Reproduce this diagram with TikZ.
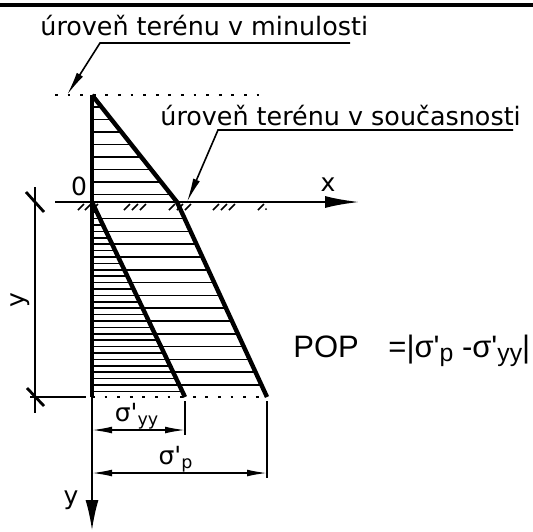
\documentclass[tikz,border=0pt]{standalone}
\usepackage{fontspec}
\setmainfont{DejaVu Sans}
\newfontfamily\eqfont{Liberation Sans}
\usepackage{tikz}
\usetikzlibrary{arrows.meta}
\newcommand\sq{\textquotesingle}
\newcommand\lowsub[1]{\raisebox{-0.15em}{\scalebox{0.8}{#1}}}

\begin{document}
\begin{tikzpicture}[
  x=0.5pt, y=-0.5pt,
  heavy/.style={line width=2.2pt},
  groundline/.style={line width=1.4pt},
  fine/.style={line width=0.75pt},
  hatch/.style={line width=0.85pt},
  dotline/.style={line width=1pt, dash pattern=on 1.4pt off 4.9pt},
  leader/.style={line width=0.8pt, -{Latex[length=12pt,width=3.6pt]}},
  dimline/.style={line width=0.75pt, {Latex[length=10pt,width=3.4pt]}-{Latex[length=10pt,width=3.4pt]}},
  lbl/.style={font=\fontsize{12.7}{15}\selectfont, inner sep=0pt},
  axlbl/.style={font=\fontsize{12.5}{15}\selectfont, inner sep=0pt},
  dimlbl/.style={font=\fontsize{12.5}{14}\selectfont, inner sep=0pt},
  eqlbl/.style={font=\eqfont\fontsize{15.5}{18}\selectfont, inner sep=0pt}
]
  \useasboundingbox (0,0) rectangle (533,531);
  \draw[heavy] (0,5) -- (533,5);

  \coordinate (apex) at (92,95);
  \coordinate (O) at (92,202);
  \coordinate (kink) at (177,202);
  \coordinate (outerend) at (267,397);
  \coordinate (innerend) at (185,397);
  \coordinate (axend) at (92,397);
  \coordinate (ytip) at (92,530);
  \coordinate (xstart) at (55,202);
  \coordinate (xtip) at (360,202);

  % hatching
  \begin{scope}
    \clip (apex) -- (kink) -- (outerend) -- (axend) -- cycle;
    \foreach \k in {0,...,7} \draw[hatch] (90,107+12.5*\k) -- (280,107+12.5*\k);
    \foreach \k in {0,...,13} \draw[hatch] (90,385-12.8*\k) -- (280,385-12.8*\k);
  \end{scope}
  \begin{scope}
    \clip (O) -- (innerend) -- (axend) -- cycle;
    \foreach \k in {0,...,14} \draw[hatch] (90,391.4-12.8*\k) -- (200,391.4-12.8*\k);
  \end{scope}

  % stress lines and axes
  \draw[heavy, line join=miter] (apex) -- (kink) -- (outerend);
  \draw[heavy] (O) -- (innerend);
  \draw[heavy] (apex) -- (axend);
  \draw[fine, -{Latex[length=15pt,width=6.5pt]}] (axend) -- (ytip);
  \draw[groundline, -{Latex[length=17.5pt,width=6pt]}] (xstart) -- (xtip);
  \foreach \gx in {78,85,92,124,132,140,169,177,185,213,221,229,258}
    \draw[hatch] (\gx,210) -- (\gx+6,204);
  \fill (266,209) circle[radius=0.5pt];

  \coordinate (pastL) at (55,95);
  \coordinate (pastR) at (262,95);
  \draw[dotline] (pastL) -- (pastR);
  \draw[dotline] (axend) -- (outerend);

  \node[axlbl] (zero) at (79,186) {0};
  \node[axlbl] (xlbl) at (328,185) {x};
  \node[axlbl] (ylbl) at (71,500) {y};

  % ground levels
  \node[lbl, anchor=base west] (past) at (40,35) {úroveň terénu v minulosti};
  \coordinate (pastfoot) at (350,43);
  \coordinate (pastknee) at (100,43);
  \coordinate (pasttip) at (67,95);
  \draw[leader] (pastfoot) -- (pastknee) -- (pasttip);

  \node[lbl, anchor=base west] (now) at (160,125) {úroveň terénu v současnosti};
  \coordinate (nowfoot) at (513,130);
  \coordinate (nowknee) at (218,130);
  \coordinate (nowtip) at (187,202);
  \draw[leader] (nowfoot) -- (nowknee) -- (nowtip);

  % depth dimension
  \coordinate (dimtop) at (35,187);
  \coordinate (dimbot) at (35,413);
  \draw[fine] (dimtop) -- (dimbot);
  \draw[groundline] (26,192) -- (44,212);
  \draw[groundline] (27,388) -- (44,406);
  \draw[fine] (30,397) -- (86,397);
  \node[axlbl, rotate=90] (ydim) at (20,300) {y};

  % stress dimensions
  \coordinate (yyL) at (92,430);
  \coordinate (yyR) at (185,430);
  \coordinate (yyext) at (185,435);
  \draw[fine] (innerend) ++(0,4) -- (yyext);
  \draw[dimline] (yyL) -- (yyR);
  \node[dimlbl] (sigyy) at (137,416) {σ\sq\textsubscript{yy}};

  \coordinate (pL) at (92,473);
  \coordinate (pR) at (267,473);
  \coordinate (pext) at (267,478);
  \draw[fine] (outerend) ++(0,4) -- (pext);
  \draw[dimline] (pL) -- (pR);
  \node[dimlbl] (sigp) at (176,459) {σ\sq\textsubscript{p}};

  \node[eqlbl, anchor=base west] (pop) at (293,357) {POP};
  \node[eqlbl, anchor=base west] (popval) at (388,357) {=|σ\sq\lowsub{p} -σ\sq\lowsub{yy}|};
\end{tikzpicture}
\end{document}
